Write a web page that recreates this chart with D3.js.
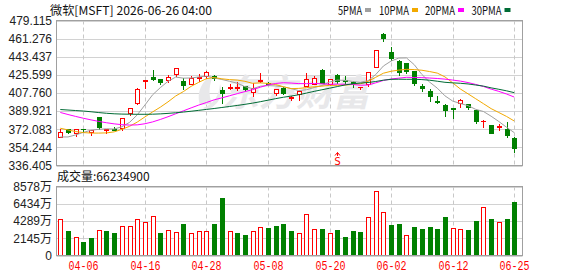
<!DOCTYPE html>
<html><head><meta charset="utf-8">
<script src="https://cdn.jsdelivr.net/npm/d3@7"></script>
<style>body{margin:0;background:#fff;} svg{display:block;}</style>
</head><body><svg id="c" width="578" height="276"></svg>
<script>
// ---------- data ----------
const title = "微软[MSFT] 2026-06-26 04:00";
const dates = ["03-31","04-01","04-02","04-06","04-07","04-08","04-09","04-10","04-13","04-14",
  "04-15","04-16","04-17","04-20","04-21","04-22","04-23","04-24","04-27","04-28",
  "04-29","04-30","05-01","05-04","05-05","05-06","05-07","05-08","05-11","05-12",
  "05-13","05-14","05-15","05-18","05-19","05-20","05-21","05-22","05-26","05-27",
  "05-28","05-29","06-01","06-02","06-03","06-04","06-05","06-08","06-09","06-10",
  "06-11","06-12","06-15","06-16","06-17","06-18","06-22","06-23","06-24","06-25"];
const open  = [364.9,372.0,368.0,372.5,369.5,384.5,371.5,372.4,373.7,388.1,
  397.9,419.9,423.8,421.2,420.5,426.7,419.6,416.9,422.5,424.1,
  424.1,410.7,412.7,412.7,415.0,408.4,419.3,417.9,407.8,412.7,
  403.2,406.8,415.0,416.9,430.0,416.9,425.5,420.5,418.2,413.4,
  416.3,433.6,466.0,448.0,438.9,436.9,429.4,414.3,409.4,399.9,
  395.7,392.7,398.3,396.6,390.7,379.8,376.0,374.2,372.7,363.3];
const high  = [373.1,373.7,372.7,372.7,372.1,385.5,371.9,375.1,384.5,394.3,
  414.0,420.6,431.0,422.8,426.7,432.3,423.5,425.1,427.0,430.0,
  426.1,414.3,417.3,419.2,415.0,418.6,428.4,419.9,412.0,414.6,
  405.8,410.1,428.7,425.1,432.3,421.2,427.7,425.5,421.0,414.6,
  429.7,450.3,467.7,453.9,441.5,438.5,429.4,417.9,412.4,405.5,
  397.6,392.7,402.9,397.6,391.7,381.9,376.0,378.3,379.9,365.2];
const low   = [364.5,368.5,365.5,369.0,366.5,372.7,368.2,371.1,371.1,385.8,
  397.0,412.4,420.2,417.0,418.9,424.5,411.7,416.9,419.2,422.5,
  420.2,398.3,411.4,410.7,409.7,404.8,418.3,416.0,405.5,406.5,
  400.9,400.6,415.0,416.3,417.3,415.3,417.6,417.3,414.0,411.4,
  414.6,433.6,458.5,440.2,425.8,427.7,415.6,409.7,399.9,397.9,
  384.9,382.9,394.3,391.7,378.3,374.4,368.5,371.1,364.9,349.8];
const close = [369.8,369.5,372.7,372.0,371.5,374.4,371.9,371.6,383.5,392.7,
  411.4,420.6,421.8,418.6,423.8,432.3,415.3,422.8,423.2,428.7,
  422.8,407.8,414.0,413.7,412.0,412.4,420.2,416.9,412.0,407.5,
  404.1,410.1,421.2,422.8,417.3,421.2,419.9,419.5,417.6,413.9,
  428.4,450.3,461.4,442.1,428.6,429.0,417.3,413.0,404.8,398.6,
  391.1,391.7,400.9,394.3,380.3,380.6,368.5,374.8,366.2,353.8];
// volume in 万股
const volume = [4477,3013,2343,1674,2134,3222,3013,2762,3640,3724,
  4477,4143,4854,2762,3222,2887,3892,2762,3096,3013,
  3892,7155,3096,2762,2511,3013,3515,3389,3640,3892,
  3013,2762,5147,3264,3264,2762,3138,2260,3013,2887,
  4728,7992,5356,3766,3892,2594,3515,3264,3515,3264,
  4770,3473,3264,3138,4268,5984,4519,4143,4519,6623.49];
// moving-average values before a full window exists
const ma5Head  = [364.5,364.5,366.5,369.0];
const ma10Head = [373.1,371.4,369.8,368.8,368.3,368.3,368.5,369.5,372.0];
const ma20Head = [388.6,386.6,384.7,382.9,381.3,379.8,378.5,377.4,376.6,376.2,
  376.4,377.5,379.3,381.7,384.4,387.3,390.2,393.1,395.9];
const ma30Head = [391.5,391.0,390.5,390.0,389.3,388.5,387.8,387.3,387.0,386.9,
  386.8,386.8,386.9,387.2,387.7,388.3,389.0,389.8,390.7,391.6,
  392.5,393.5,394.5,395.5,396.6,397.8,399.2,400.7,402.2];
const maPeriods = [5,10,20,30];
const maNames = ["5PMA","10PMA","20PMA","30PMA"];
const priceTicks = [479.115,461.276,443.437,425.599,407.760,389.921,372.083,354.244,336.405];
const volTicks = [8578,6434,4289,2145,0];
const dateTicks = ["04-06","04-16","04-28","05-08","05-20","06-02","06-12","06-25"];
const signalDates = ["05-21"];
const signalText = "S";
const volLabel = "成交量";
const watermark = "东方财富";

// ---------- drawing ----------
const svg = d3.select("#c");
const UP = "#ff0000", DOWN = "#008000";
const maColors = ["#a0a0a0","#f2a900","#ff00ff","#006b35"];
const L = 56.5, R = 522.5;
const mainTop = 20.5, mainBot = 165.5, volTop = 186.5, volBot = 255.5;

const x = d3.scalePoint().domain(dates).range([60.3, 514.2]);
const y = d3.scaleLinear().domain([336.405, 479.115]).range([mainBot, mainTop]);
const yv = d3.scaleLinear().domain([0, 8578]).range([volBot, volTop]);
const cx = d => Math.round(x(d)) + 0.5;

// grids
const g = svg.append("g");
g.selectAll(".hg").data(priceTicks).join("line")
  .attr("x1", L).attr("x2", R)
  .attr("y1", d => Math.round(y(d)) + 0.5).attr("y2", d => Math.round(y(d)) + 0.5)
  .attr("stroke", "#d2d2d2");
g.selectAll(".vg").data(volTicks).join("line")
  .attr("x1", L).attr("x2", R)
  .attr("y1", d => Math.round(yv(d)) + 0.5).attr("y2", d => Math.round(yv(d)) + 0.5)
  .attr("stroke", "#d2d2d2");
[[mainTop, mainBot], [volTop, volBot]].forEach(([t, b]) => {
  g.selectAll(null).data(dateTicks).join("line")
    .attr("x1", d => cx(d)).attr("x2", d => cx(d))
    .attr("y1", t).attr("y2", b)
    .attr("stroke", "#c8c8c8").attr("stroke-dasharray", "4,3");
});

// watermark
const wm = svg.append("g").attr("fill", "#e8e8ea");
wm.append("path").attr("d", "M200,105 C196,92 202,80 214,74 C209,84 208,94 212,104 Z");
wm.append("path").attr("d", "M203,108 C214,104 219,96 220,84 C224,96 218,106 206,110 Z");
wm.append("text").attr("x", 222).attr("y", 106).attr("font-size", 37)
  .attr("font-weight", "bold").attr("font-style", "italic")
  .attr("font-family", "'Noto Sans CJK SC', sans-serif").text(watermark);

// candles
const idx = d3.range(dates.length);
const cg = svg.append("g").attr("shape-rendering", "crispEdges");
idx.forEach(i => {
  const xc = cx(dates[i]);
  const up = close[i] > open[i];
  const col = up ? UP : DOWN;
  const top = y(Math.max(open[i], close[i])), bot = y(Math.min(open[i], close[i]));
  const yt = Math.round(top) + 0.5, yb = Math.round(bot) + 0.5;
  const yh = Math.round(y(high[i])) + 0.5, yl = Math.round(y(low[i])) + 0.5;
  if (yb - yt < 1) {
    cg.append("line").attr("x1", xc).attr("x2", xc).attr("y1", yh).attr("y2", yl).attr("stroke", col);
    cg.append("line").attr("x1", xc - 2.5).attr("x2", xc + 2.5).attr("y1", yt).attr("y2", yt).attr("stroke", col);
  } else if (up) {
    cg.append("line").attr("x1", xc).attr("x2", xc).attr("y1", yh).attr("y2", yt).attr("stroke", col);
    cg.append("line").attr("x1", xc).attr("x2", xc).attr("y1", yb).attr("y2", yl).attr("stroke", col);
    cg.append("rect").attr("x", xc - 2).attr("y", yt).attr("width", 4).attr("height", yb - yt)
      .attr("fill", "#fff").attr("stroke", col);
  } else {
    cg.append("line").attr("x1", xc).attr("x2", xc).attr("y1", yh).attr("y2", yl).attr("stroke", col);
    cg.append("rect").attr("x", xc - 2.5).attr("y", yt - 0.5).attr("width", 5).attr("height", yb - yt + 1)
      .attr("fill", col);
  }
});

// moving averages
const maHeads = [ma5Head, ma10Head, ma20Head, ma30Head];
maPeriods.forEach((n, k) => {
  const vals = close.map((c, i) => i < n - 1 ? maHeads[k][i] : d3.mean(close.slice(i - n + 1, i + 1)));
  svg.append("path").datum(vals)
    .attr("d", d3.line().x((d, i) => x(dates[i])).y(d => y(d)))
    .attr("fill", "none").attr("stroke", maColors[k]).attr("stroke-width", 1);
});

// signal marker
signalDates.forEach(d => {
  const xc = cx(d);
  svg.append("path").attr("d", `M${xc-2.5},${155.5}L${xc},${152.5}L${xc+2.5},${155.5}M${xc},152.5V156`)
    .attr("stroke", UP).attr("fill", "none");
  svg.append("text").attr("x", xc).attr("y", 165).attr("text-anchor", "middle")
    .attr("font-size", 11).attr("font-family", "'DejaVu Sans Mono', monospace").attr("fill", UP).text(signalText);
});

// volume bars
const vg = svg.append("g").attr("shape-rendering", "crispEdges");
idx.forEach(i => {
  const xc = cx(dates[i]);
  const up = i === 0 ? close[i] >= open[i] : close[i] >= close[i - 1];
  const yt = Math.round(yv(volume[i])) + 0.5;
  if (up) {
    vg.append("rect").attr("x", xc - 2).attr("y", yt).attr("width", 4).attr("height", volBot - yt)
      .attr("fill", "#fff").attr("stroke", UP);
  } else {
    vg.append("rect").attr("x", xc - 2.5).attr("y", yt - 0.5).attr("width", 5).attr("height", volBot - yt + 0.5)
      .attr("fill", DOWN);
  }
});

// frames
svg.append("rect").attr("x", L).attr("y", mainTop).attr("width", R - L).attr("height", mainBot - mainTop)
  .attr("fill", "none").attr("stroke", "#a0a0a0");
svg.append("rect").attr("x", L).attr("y", volTop).attr("width", R - L).attr("height", volBot - volTop)
  .attr("fill", "none").attr("stroke", "#a0a0a0");

// axis labels
const fmt = d3.format(".3f");
svg.selectAll(".pl").data(priceTicks).join("text")
  .attr("x", 52).attr("y", d => y(d)).attr("dy", "0.36em").attr("text-anchor", "end")
  .attr("font-size", 12).attr("font-family", "'Liberation Sans', Arial, sans-serif").attr("fill", "#222")
  .text(d => fmt(d));
svg.selectAll(".vl").data(volTicks).join("text")
  .attr("x", 52).attr("y", d => yv(d)).attr("dy", "0.36em").attr("text-anchor", "end")
  .attr("font-size", 12).attr("font-family", "'Liberation Sans', 'Noto Sans CJK SC', sans-serif").attr("fill", "#222")
  .text(d => d === 0 ? "0" : d + "万");
svg.selectAll(".xl").data(dateTicks).join("text")
  .attr("x", d => cx(d)).attr("y", 270).attr("text-anchor", "middle")
  .attr("font-size", 12).attr("font-family", "'Liberation Mono', monospace").attr("fill", UP)
  .attr("textLength", 30).attr("lengthAdjust", "spacingAndGlyphs")
  .text(d => d);

// title & legend
svg.append("text").attr("x", 50).attr("y", 15).attr("font-size", 12)
  .attr("font-family", "'Noto Sans CJK SC', sans-serif").attr("fill", "#111")
  .attr("textLength", 162).attr("lengthAdjust", "spacingAndGlyphs").text(title);
const legX = [338, 379, 425, 471.5];
maNames.forEach((n, k) => {
  svg.append("text").attr("x", legX[k]).attr("y", 15).attr("font-size", 12)
    .attr("font-family", "'Noto Sans CJK SC', sans-serif").attr("fill", "#111")
    .attr("textLength", n.length * 6).attr("lengthAdjust", "spacingAndGlyphs").text(n);
  svg.append("rect").attr("x", legX[k] + n.length * 6 + 3).attr("y", 8).attr("width", 6).attr("height", 4)
    .attr("fill", maColors[k]);
});
const lastVol = Math.round(volume[volume.length - 1] * 10000);
svg.append("text").attr("x", 57).attr("y", 181).attr("font-size", 12)
  .attr("font-family", "'Noto Sans CJK SC', sans-serif").attr("fill", "#111")
  .text(volLabel + ":" + lastVol);
</script></body></html>
